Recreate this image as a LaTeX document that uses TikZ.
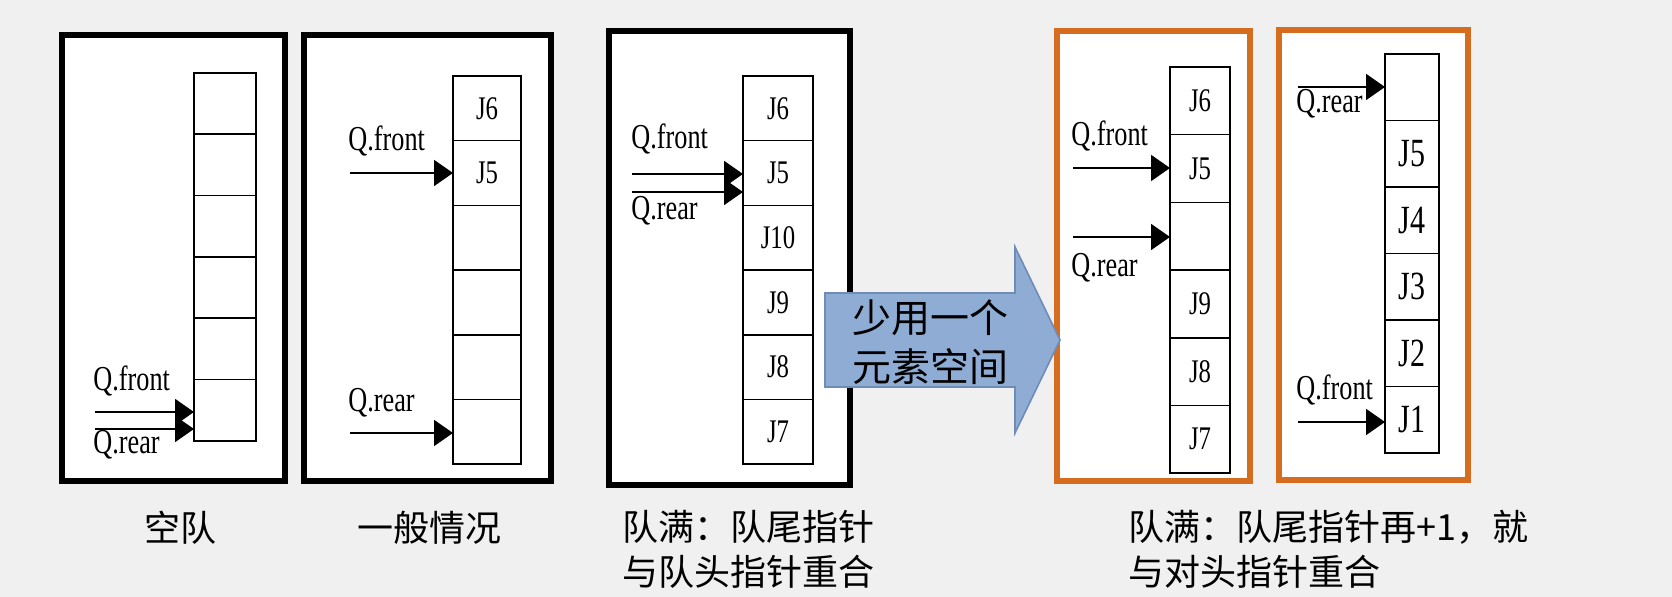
\documentclass[tikz,border=0pt]{standalone}
\usepackage{fontspec}
\setmainfont{Liberation Serif}
\newfontfamily\cjk{Noto Sans CJK SC}
\newfontfamily\qfont[FakeStretch=0.75]{Liberation Serif}
\usetikzlibrary{arrows.meta,positioning,calc,shadows}
\definecolor{slidebg}{RGB}{240,240,240}
\definecolor{panelorange}{RGB}{214,108,32}
\definecolor{arrowblue}{RGB}{142,172,212}
\definecolor{arrowedge}{RGB}{110,140,182}

% one queue column: name, x, top y, cell width, cell height, contents
\newcommand{\queuecol}[6]{%
  \foreach \t [count=\i] in {#6} {
    \node[cell,minimum width={#4*0.5pt},minimum height={#5*0.5pt},anchor=north west]
      (#1-\i) at (#2,{#3+(\i-1)*#5}) {\t};
  }}

\begin{document}
\begin{tikzpicture}[x=0.5pt,y=-0.5pt,
    cell/.style={draw,line width=0.8pt,inner sep=0pt,outer sep=0pt,font=\qfont\fontsize{16.5}{18}\selectfont},
    bigcell/.style={cell,font=\qfont\fontsize{20}{22}\selectfont},
    qlbl/.style={anchor=west,inner sep=0pt,font=\qfont\fontsize{17.5}{19}\selectfont},
    ptr/.style={-{Triangle[length=9.5pt,width=13pt]},line width=1pt},
    panel/.style={fill=white,line width=2.6pt,drop shadow={shadow xshift=1.5pt,shadow yshift=-1.5pt,opacity=0.25}},
    caption/.style={anchor=west,align=left,inner sep=0pt,font=\cjk\fontsize{18}{22.5}\selectfont}]
  \fill[slidebg] (0,0) rectangle (1672,597);
  \useasboundingbox (0,0) rectangle (1672,597);

  % frames
  \draw[panel] (62,35) rectangle (285,481);
  \draw[panel] (304,35) rectangle (551,481);
  \draw[panel] (609,31) rectangle (850,485);
  \draw[panel,draw=panelorange] (1057,31) rectangle (1250,481);
  \draw[panel,draw=panelorange] (1279,30) rectangle (1468,480);

  % empty queue
  \queuecol{qa}{194}{73}{62}{61.3}{{},{},{},{},{},{}}
  \node[qlbl] (fa) at (93,381) {Q.front};
  \node[qlbl] (ra) at (93,445) {Q.rear};
  \coordinate (fas) at (95,412);
  \coordinate (ras) at (95,429);
  \draw[ptr] (fas) -- (fas -| qa-6.west);
  \draw[ptr] (ras) -- (ras -| qa-6.west);

  % general case
  \queuecol{qb}{453}{76}{68}{64.7}{J6,J5,{},{},{},{}}
  \node[qlbl] (fb) at (348,141) {Q.front};
  \node[qlbl] (rb) at (348,403) {Q.rear};
  \coordinate (fbs) at (350,173);
  \coordinate (rbs) at (350,433);
  \draw[ptr] (fbs) -- (fbs -| qb-2.west);
  \draw[ptr] (rbs) -- (rbs -| qb-6.west);

  % full, rear meets front
  \queuecol{qc}{743}{76}{70}{64.7}{J6,J5,J10,J9,J8,J7}
  \node[qlbl] (fc) at (631,139) {Q.front};
  \node[qlbl] (rc) at (631,211) {Q.rear};
  \coordinate (fcs) at (632,174);
  \coordinate (rcs) at (632,192);
  \draw[ptr] (fcs) -- (fcs -| qc-2.west);
  \draw[ptr] (rcs) -- (rcs -| qc-2.west);

  % big arrow
  \draw[fill=arrowblue,draw=arrowedge,line width=0.8pt]
    (825,293) -- (1015,293) -- (1015,247) -- (1060,340) -- (1015,433) -- (1015,387) -- (825,387) -- cycle;
  \node[align=center,inner sep=0pt,font=\cjk\fontsize{19.5}{24.5}\selectfont] (gap) at (930,342) {少用一个\\元素空间};

  % one slot left free
  \queuecol{qd}{1170}{67}{60}{67.7}{J6,J5,{},J9,J8,J7}
  \node[qlbl] (fd) at (1071,136) {Q.front};
  \node[qlbl] (rd) at (1071,268) {Q.rear};
  \coordinate (fds) at (1073,168);
  \coordinate (rds) at (1073,237);
  \draw[ptr] (fds) -- (fds -| qd-2.west);
  \draw[ptr] (rds) -- (rds -| qd-3.west);

  \foreach \t [count=\i] in {{},J5,J4,J3,J2,J1} {
    \node[bigcell,minimum width=27pt,minimum height=33.25pt,anchor=north west]
      (qe-\i) at (1385,{54+(\i-1)*66.5}) {\t};
  }
  \node[qlbl] (re) at (1296,104) {Q.rear};
  \node[qlbl] (fe) at (1296,390) {Q.front};
  \coordinate (res) at (1298,87);
  \coordinate (fes) at (1298,422);
  \draw[ptr] (res) -- (res -| qe-1.west);
  \draw[ptr] (fes) -- (fes -| qe-6.west);

  % captions
  \node[caption] (ca) at (144,528) {空队};
  \node[caption] (cb) at (357,528) {一般情况};
  \node[caption,anchor=north west] (cc) at (622,510) {队满：队尾指针\\与队头指针重合};
  \node[caption,anchor=north west] (cd) at (1128,510) {队满：队尾指针再+1，就\\与对头指针重合};
\end{tikzpicture}
\end{document}
